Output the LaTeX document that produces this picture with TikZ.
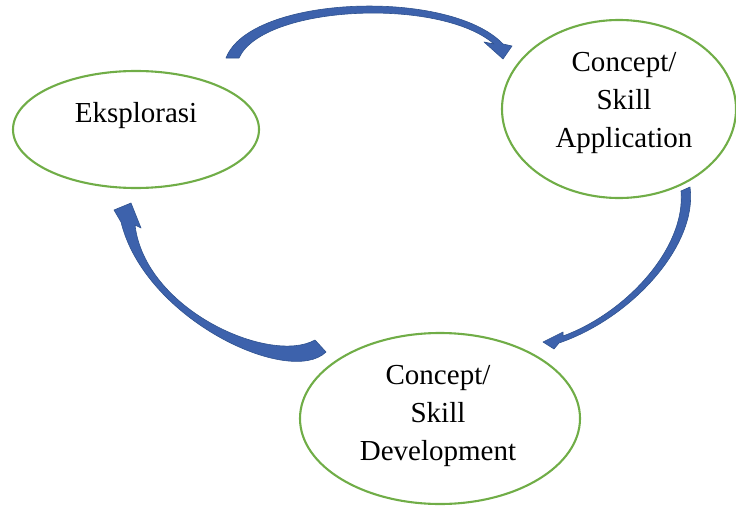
\documentclass[tikz,border=0pt]{standalone}
\usepackage{fontspec}
\setmainfont{Liberation Serif}
\usetikzlibrary{shapes.geometric}

\definecolor{leafgreen}{RGB}{112,173,71}
\definecolor{arrowblue}{RGB}{61,98,172}
\definecolor{arrowedge}{RGB}{47,82,143}

\tikzset{
	bubble/.style={ellipse, draw=leafgreen, line width=2.1pt, inner sep=0pt},
	caption/.style={align=center, inner sep=0pt, font=\fontsize{29}{38}\selectfont},
	bigarrow/.style={fill=arrowblue, draw=arrowedge, line width=0.6pt, line join=round}
}

\begin{document}
\begin{tikzpicture}[x=1pt, y=-1pt]
	\useasboundingbox (0,0) rectangle (736,506);
	
	% the three stages
	\node[bubble, minimum width=246pt, minimum height=117pt] (eks) at (136,129.5) {};
	\node[bubble, minimum width=234pt, minimum height=178pt] (app) at (619,109) {};
	\node[bubble, minimum width=280pt, minimum height=171pt] (dev) at (440,418.5) {};
	
	\node[caption] (eksText) at (136,115.3) {Eksplorasi};
	\node[caption] (appText) at (624,103) {Concept/\\ Skill\\ Application};
	\node[caption] (devText) at (438,416) {Concept/\\ Skill\\ Development};
	
	% eksplorasi -> application
	\coordinate (t1a) at (226,58);
	\coordinate (t1b) at (239,58);
	\coordinate (h1) at (503,59);
	\path[bigarrow] (t1a) .. controls (250,-5) and (450,-12) .. (503,44)
		-- (512,46) -- (h1) -- (484,42) -- (494,44)
		.. controls (440,-3) and (263,5) .. (t1b) -- cycle;
	
	% application -> development
	\coordinate (t2a) at (681,191);
	\coordinate (t2b) at (690,187);
	\coordinate (h2) at (543,342);
	\path[bigarrow] (t2b) .. controls (698,245) and (632,318) .. (559,343)
		-- (554,349) -- (h2) -- (563,332) -- (563,336)
		.. controls (626,313) and (686,248) .. (t2a) -- cycle;
	
	% development -> eksplorasi
	\coordinate (t3a) at (315,340);
	\coordinate (t3b) at (326,352);
	\coordinate (h3) at (131,203);
	\path[bigarrow] (t3b) .. controls (290,387) and (145,320) .. (121,222)
		-- (114,210) -- (h3) -- (141,228) -- (135,225)
		.. controls (145,310) and (270,365) .. (t3a) -- cycle;
\end{tikzpicture}
\end{document}
